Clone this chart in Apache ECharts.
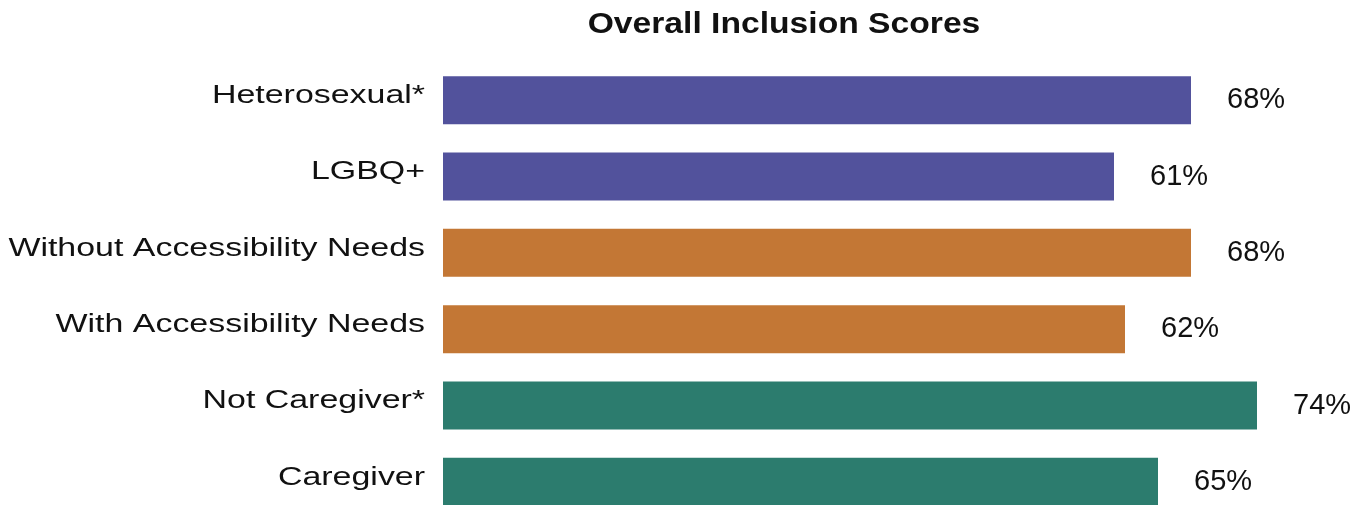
<!DOCTYPE html>
<html>
<head>
<meta charset="utf-8">
<script src="https://cdn.jsdelivr.net/npm/echarts@6/dist/echarts.min.js"></script>
<style>html,body{margin:0;padding:0;background:#fff;}#c{width:1355px;height:505px;}</style>
</head>
<body>
<div id="c"></div>
<script>
const titleText = 'Overall Inclusion Scores';
const categories = ['Heterosexual*', 'LGBQ+', 'Without Accessibility Needs', 'With Accessibility Needs', 'Not Caregiver*', 'Caregiver'];
const values = [68, 61, 68, 62, 74, 65];
const groups = [0, 0, 1, 1, 2, 2];
const palette = ['#52529C', '#C37735', '#2C7C6E'];

const FONT = 'Arial';
const chart = echarts.init(document.getElementById('c'));
chart.setOption({
  animation: false,
  backgroundColor: '#fff',
  grid: { left: 443, top: 62, width: 880, height: 458, containLabel: false, outerBoundsMode: 'none' },
  xAxis: { type: 'value', min: 0, max: 80, show: false },
  yAxis: {
    type: 'category', inverse: true, data: categories,
    axisLine: { show: false }, axisTick: { show: false },
    axisLabel: { show: false }
  },
  series: [{
    type: 'bar', barWidth: 48,
    data: values.map((v, i) => ({ value: v, itemStyle: { color: palette[groups[i]] } })),
    label: {
      show: true, position: 'right', distance: 36,
      formatter: p => p.value + '%',
      fontFamily: FONT, fontSize: 29, color: '#111'
    }
  }]
});

// Category labels and title, horizontally stretched like the reference, placed from the axis scales
const x0 = chart.convertToPixel({ xAxisIndex: 0 }, 0);
const graphics = categories.map(c => ({
  type: 'text',
  x: x0 - 18,
  y: chart.convertToPixel({ yAxisIndex: 0 }, c) - 4.5,
  scaleX: 1.28,
  style: { text: c, x: 0, y: 0, align: 'right', verticalAlign: 'middle', font: '26.5px Arial', fill: '#111' }
}));
graphics.push({
  type: 'text',
  x: 784, y: 24.5,
  scaleX: 1.16,
  style: { text: titleText, x: 0, y: 0, align: 'center', verticalAlign: 'middle', font: 'bold 29px Arial', fill: '#111' }
});
chart.setOption({ graphic: graphics });
</script>
</body>
</html>
